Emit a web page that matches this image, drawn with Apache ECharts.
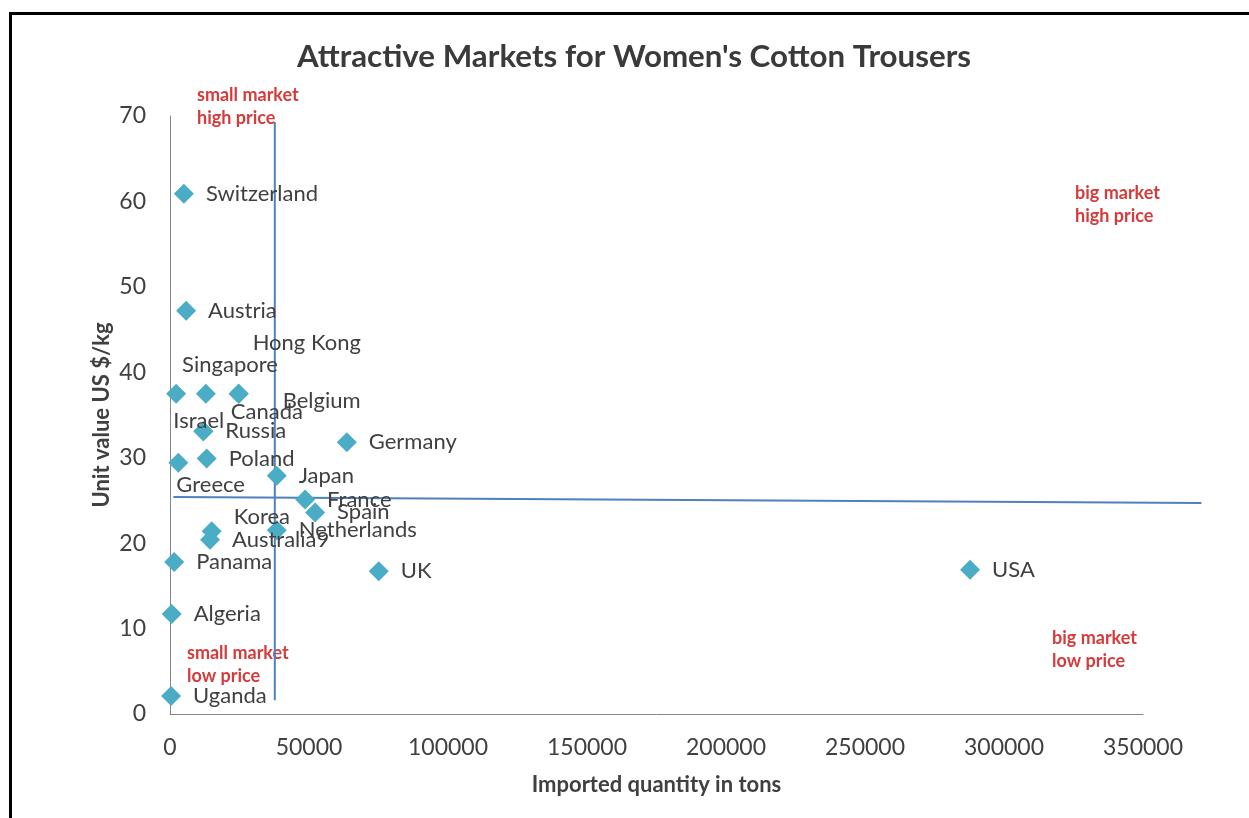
<!DOCTYPE html>
<html>
<head>
<meta charset="utf-8">
<title>Attractive Markets for Women's Cotton Trousers</title>
<script src="https://cdn.jsdelivr.net/npm/echarts@6/dist/echarts.min.js"></script>
<style>
  html, body { margin: 0; padding: 0; background: #fff; }
  #chart { width: 1249px; height: 818px; }
</style>
</head>
<body>
<div id="chart"></div>
<script>
// market data
var countries = ['Switzerland', 'Austria', 'Singapore', 'Canada', 'Hong Kong', 'Belgium',
  'Israel', 'Russia', 'Poland', 'Greece', 'Germany', 'Japan', 'France', 'Spain',
  'Korea', 'Australia9', 'Netherlands', 'Panama', 'UK', 'USA', 'Algeria', 'Uganda']
var quantity = [5000, 5800, 2200, 12900, 24700, 24700,
  12000, 12000, 13200, 3000, 63600, 38400, 48600, 52200,
  15000, 14400, 38400, 1500, 75100, 287800, 600, 400]
var unitValue = [60.9, 47.2, 37.5, 37.5, 37.5, 37.5,
  33.1, 33.1, 29.9, 29.4, 31.8, 27.9, 25.1, 23.6,
  21.4, 20.4, 21.5, 17.8, 16.7, 16.9, 11.7, 2.1]

// dividing lines between the quadrants
var splitV = [[37700, 69.3], [37700, 1.6]]
var splitH = [[1200, 25.4], [371000, 24.7]]

var xTicks = [0, 350000, 50000]
var yTicks = [0, 70, 10]

// labels that were dragged away from the default spot (px)
var labelShift = {
  'Singapore': [-16, -29],
  'Canada': [3, 18],
  'Hong Kong': [-8, -51],
  'Belgium': [22, 7],
  'Israel': [-52, -10],
  'Greece': [-24, 22],
  'Korea': [0, -14]
}

var points = countries.map(function (name, i) {
  return { name: name, value: [quantity[i], unitValue[i]] }
})

var font = 'Lato, "Open Sans", sans-serif'
var lineColor = '#4f81bd'
var red = '#d63a3a'

var option = {
  animation: false,
  backgroundColor: '#fff',
  title: {
    text: "Attractive Markets for Women's Cotton Trousers",
    left: 292,
    top: 36,
    textStyle: {
      fontFamily: font,
      fontSize: 31.3,
      fontWeight: 'bold',
      color: '#3a3a3a'
    }
  },
  grid: {
    left: 170,
    right: 106,
    top: 116,
    bottom: 104
  },
  xAxis: {
    type: 'value',
    min: xTicks[0],
    max: xTicks[1],
    interval: xTicks[2],
    name: 'Imported quantity in tons',
    nameLocation: 'middle',
    nameGap: 60,
    nameTextStyle: { fontFamily: font, fontSize: 22, fontWeight: 'bold', color: '#404040' },
    splitLine: { show: false },
    axisTick: { show: false },
    axisLine: { show: true, lineStyle: { color: '#868686', width: 1 } },
    axisLabel: {
      fontFamily: font,
      fontSize: 23,
      color: '#404040',
      margin: 22,
      formatter: function (v) { return String(v) }
    }
  },
  yAxis: {
    type: 'value',
    min: yTicks[0],
    max: yTicks[1],
    interval: yTicks[2],
    name: 'Unit value US $/kg',
    nameLocation: 'middle',
    nameGap: 57,
    nameMoveOverlap: false,
    nameTextStyle: { fontFamily: font, fontSize: 22, fontWeight: 'bold', color: '#404040' },
    splitLine: { show: false },
    axisTick: { show: false },
    axisLine: { show: true, lineStyle: { color: '#868686', width: 1 } },
    axisLabel: { fontFamily: font, fontSize: 23, color: '#404040', margin: 24 }
  },
  series: [
    {
      type: 'scatter',
      data: points,
      symbol: 'diamond',
      symbolSize: 20,
      itemStyle: { color: '#4bacc6', opacity: 1 },
      label: {
        show: true,
        position: 'right',
        distance: 12,
        formatter: '{b}',
        fontFamily: font,
        fontSize: 22,
        color: '#404040'
      },
      labelLayout: function (params) {
        var s = labelShift[countries[params.dataIndex]] || [0, 0]
        return { dx: s[0], dy: s[1], hideOverlap: false }
      },
      z: 3
    }
  ],
  graphic: [
    {
      type: 'rect',
      shape: { x: 10.5, y: 13.5, width: 1400, height: 1000 },
      style: { fill: null, stroke: '#000', lineWidth: 3 }
    },
    {
      type: 'text', left: 197, top: 84,
      style: { text: 'small market\nhigh price', font: 'bold 18px ' + font, fill: red, lineHeight: 23 }
    },
    {
      type: 'text', left: 1075, top: 182,
      style: { text: 'big market\nhigh price', font: 'bold 18px ' + font, fill: red, lineHeight: 23 }
    },
    {
      type: 'text', left: 187, top: 642,
      style: { text: 'small market\nlow price', font: 'bold 18px ' + font, fill: red, lineHeight: 23 }
    },
    {
      type: 'text', left: 1052, top: 627,
      style: { text: 'big market\nlow price', font: 'bold 18px ' + font, fill: red, lineHeight: 23 }
    }
  ]
}

var myChart = echarts.init(document.getElementById('chart'))
myChart.setOption(option)

// quadrant lines run past the axis end, so place them through the grid's scale
function toPx (pt) {
  return myChart.convertToPixel({ gridIndex: 0 }, pt)
}
function quadLine (id, pts) {
  var a = toPx(pts[0])
  var b = toPx(pts[1])
  return {
    id: id,
    type: 'line',
    z: 1,
    shape: { x1: a[0], y1: a[1], x2: b[0], y2: b[1] },
    style: { stroke: lineColor, lineWidth: 2 }
  }
}
myChart.setOption({
  graphic: [quadLine('splitV', splitV), quadLine('splitH', splitH)]
})

window.addEventListener('resize', function () {
  myChart.resize()
})
</script>
</body>
</html>
